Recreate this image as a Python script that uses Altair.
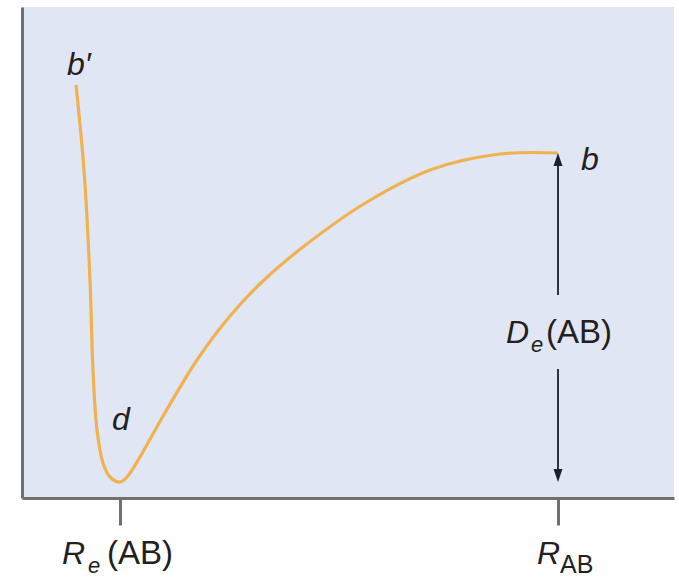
import altair as alt
import pandas as pd

# Potential-energy curve of the A–B bond (R in arbitrary length units, E in arbitrary energy units)
R_vals = [0.54, 0.62, 0.68, 0.71, 0.75, 0.81, 0.88, 0.98, 1.05, 1.18, 1.40,
          1.75, 2.08, 2.41, 2.81, 3.45, 4.11, 4.78, 5.36]
E_vals = [4.13, 3.28, 2.18, 1.28, 0.68, 0.35, 0.21, 0.16, 0.21, 0.41, 0.80,
          1.38, 1.82, 2.17, 2.51, 2.96, 3.29, 3.44, 3.45]

R_e = 0.98      # equilibrium bond length
R_AB = 5.36     # separated atoms
E_min = min(E_vals)
E_b = E_vals[-1]

X_MAX, Y_MAX = 6.52, 4.91
W, H = 652, 491

FONT = "Liberation Sans"
INK = "#231f20"
ARROW = "#1b2030"
AXIS = "#707070"

curve_df = pd.DataFrame({"R": R_vals, "E": E_vals})

xs = alt.Scale(domain=[0, X_MAX], nice=False, zero=False)
ys = alt.Scale(domain=[0, Y_MAX], nice=False, zero=False)

x_axis = alt.Axis(values=[R_e, R_AB], labels=False, title=None, grid=False,
                  tickSize=27, tickWidth=3, tickColor=AXIS,
                  domainColor=AXIS, domainWidth=3)
y_axis = alt.Axis(ticks=False, labels=False, title=None, grid=False,
                  domainColor=AXIS, domainWidth=3)

curve = alt.Chart(curve_df).mark_line(
    color="#f0b24e", strokeWidth=3.2, interpolate="catmull-rom"
).encode(
    x=alt.X("R:Q", scale=xs, axis=x_axis),
    y=alt.Y("E:Q", scale=ys, axis=y_axis),
)

# Dissociation-energy arrow, broken around its label
label_E = 1.66
gap = 0.37
seg_df = pd.DataFrame({
    "R": [R_AB, R_AB],
    "y1": [E_b - 0.06, label_E - gap],
    "y2": [label_E + gap, E_min + 0.06],
})
segments = alt.Chart(seg_df).mark_rule(color=ARROW, strokeWidth=1.8).encode(
    x=alt.X("R:Q", scale=xs), y=alt.Y("y1:Q", scale=ys), y2="y2:Q"
)
head_up = alt.Chart(pd.DataFrame({"R": [R_AB], "E": [E_b]})).mark_point(
    shape="M0,0L-0.9,2.6L0.9,2.6Z", size=100, filled=True, color=ARROW, opacity=1
).encode(x=alt.X("R:Q", scale=xs), y=alt.Y("E:Q", scale=ys))
head_down = alt.Chart(pd.DataFrame({"R": [R_AB], "E": [E_min]})).mark_point(
    shape="M0,0L-0.9,-2.6L0.9,-2.6Z", size=100, filled=True, color=ARROW, opacity=1
).encode(x=alt.X("R:Q", scale=xs), y=alt.Y("E:Q", scale=ys))


def txt(r, e, s, dx, dy, size=32, italic=False, align="left"):
    return alt.Chart(pd.DataFrame({"R": [r], "E": [e], "t": [s]})).mark_text(
        font=FONT, fontSize=size, fontStyle="italic" if italic else "normal",
        color=INK, align=align, baseline="alphabetic", dx=dx, dy=dy
    ).encode(x=alt.X("R:Q", scale=xs), y=alt.Y("E:Q", scale=ys), text="t:N")


labels = [
    # point labels on the curve
    txt(R_vals[0], E_vals[0], "b\u2032", -9, -10, italic=True),
    txt(R_e, E_min, "d", -8, -52, italic=True),
    txt(R_AB, E_b, "b", 23, 17, italic=True),
    # D_e(AB)
    txt(R_AB, label_E, "D", -52, 11, italic=True),
    txt(R_AB, label_E, "e", -27, 20, size=22, italic=True),
    txt(R_AB, label_E, "(AB)", -12, 11, size=33),
    # x-axis labels
    txt(R_e, 0, "R", -58, 66, italic=True),
    txt(R_e, 0, "e", -32, 75, size=22, italic=True),
    txt(R_e, 0, "(AB)", -13, 66, size=33),
    txt(R_AB, 0, "R", -21, 66, italic=True),
    txt(R_AB, 0, "AB", 2, 75, size=25),
]

chart = alt.layer(curve, segments, head_up, head_down, *labels).properties(
    width=W, height=H,
    autosize=alt.AutoSizeParams(type="none"),
    padding={"left": 22, "top": 7, "right": 5, "bottom": 79},
    background="white",
).configure_view(fill="#e1e6f4", stroke=None)

chart.save("out.html", embed_options={"renderer": "svg", "actions": False})
